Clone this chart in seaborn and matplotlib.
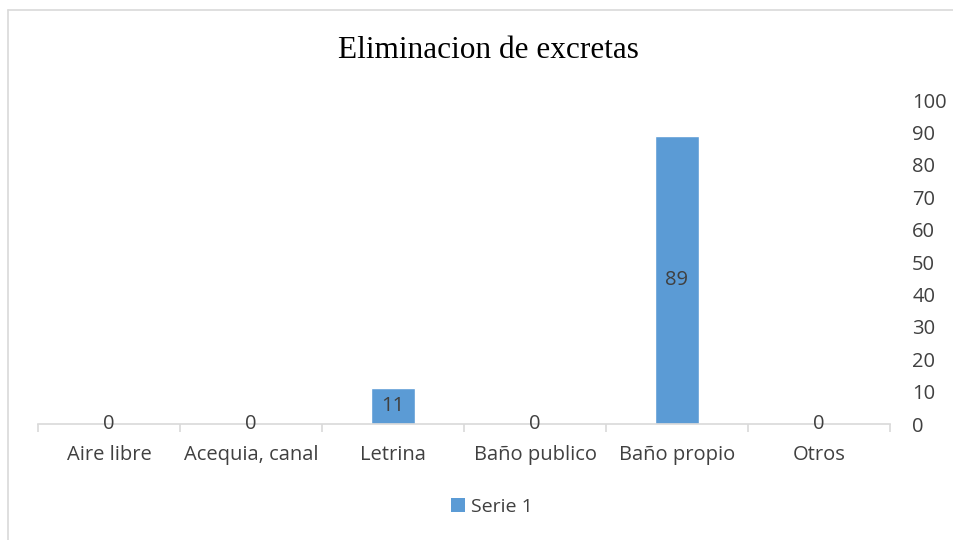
import matplotlib
matplotlib.use("Agg")
import matplotlib.pyplot as plt
from matplotlib.lines import Line2D
from matplotlib.patches import Patch
import seaborn as sns
import pandas as pd

categories = ["Aire libre", "Acequia, canal", "Letrina", "Baño publico", "Baño propio", "Otros"]
values = [0, 0, 11, 0, 89, 0]
series_name = "Serie 1"
title = "Eliminacion de excretas"

bar_color = "#5B9BD5"
text_color = "#404040"
line_color = "#D9D9D9"

sns.set_style("white")
plt.rcParams["font.family"] = ["Open Sans", "DejaVu Sans"]

df = pd.DataFrame({"categoria": categories, "valor": values})

fig = plt.figure(figsize=(9.54, 5.4), dpi=100)
ax = fig.add_axes([38 / 954, 1 - 424 / 540, (890 - 38) / 954, (424 - 100) / 540])

sns.barplot(data=df, x="categoria", y="valor", color=bar_color, width=0.31,
            saturation=1, ax=ax)
ax.bar_label(ax.containers[0], label_type="center", fontsize=14.5, color=text_color)

ax.set_xlim(-0.5, len(categories) - 0.5)
ax.set_ylim(0, 100)
ax.set_yticks(range(0, 101, 10))
ax.yaxis.tick_right()
ax.tick_params(axis="y", length=0, pad=16, labelsize=14.5, labelcolor=text_color)
ax.tick_params(axis="x", which="major", bottom=True, length=0, pad=15, labelsize=14.5,
               labelcolor=text_color)
ax.set_xticks([i - 0.5 for i in range(len(categories) + 1)], minor=True)
ax.tick_params(axis="x", which="minor", bottom=True, length=6, width=1.2,
               color=line_color, direction="out")
ax.set_xlabel("")
ax.set_ylabel("")

for side in ["top", "left", "right"]:
    ax.spines[side].set_visible(False)
ax.spines["bottom"].set_color(line_color)
ax.spines["bottom"].set_linewidth(1.2)

fig.text(488 / 954, 1 - 51 / 540, title, ha="center", va="center",
         fontsize=22.5, family="Liberation Serif", color="black")

handles = [Patch(facecolor=bar_color, edgecolor="none", label=series_name)]
fig.legend(handles=handles, loc="center", bbox_to_anchor=(492 / 954, 1 - 507 / 540),
           frameon=False, fontsize=14, handlelength=0.7, handleheight=0.7,
           handletextpad=0.3, labelcolor=text_color)

# chart frame (only top and left edges visible in the crop)
fig.add_artist(Line2D([8 / 954, 1], [1 - 10 / 540, 1 - 10 / 540], color=line_color,
                      lw=1.2, transform=fig.transFigure))
fig.add_artist(Line2D([8 / 954, 8 / 954], [0, 1 - 10 / 540], color=line_color,
                      lw=1.2, transform=fig.transFigure))

fig.savefig("out.png", dpi=100)
